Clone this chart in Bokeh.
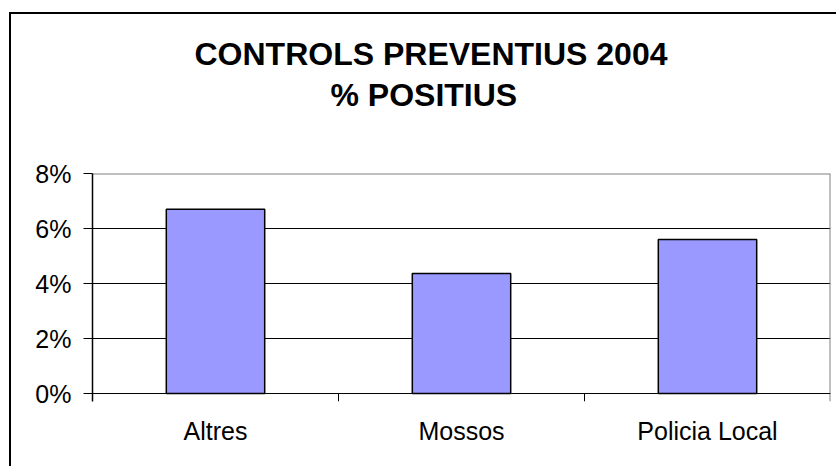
from bokeh.plotting import figure
from bokeh.models import Range1d, FixedTicker, Title, ColumnDataSource
from bokeh.embed import file_html
from bokeh.resources import INLINE

# ---- data ----
categories = ["Altres", "Mossos", "Policia Local"]
positius = [6.7, 4.36, 5.6]          # percent
y_ticks = [0, 2, 4, 6, 8]
y_tick_labels = ["0%", "2%", "4%", "6%", "8%"]
title_lines = ["CONTROLS PREVENTIUS 2004", "% POSITIUS"]

FONT = "Liberation Sans"
n = len(categories)
x_centers = [i + 0.5 for i in range(n)]
y_bottom = -0.29
y_top = 8

p = figure(width=827, height=454, output_backend="svg", toolbar_location=None,
           x_range=Range1d(0, n), y_range=Range1d(y_bottom, y_top),
           min_border_left=81, min_border_right=8, min_border_top=159, min_border_bottom=67)
p.styles = {"border-left": "2px solid black", "border-top": "2px solid black",
            "margin-left": "9px", "margin-top": "12px"}
p.outline_line_color = None
p.background_fill_color = "white"
p.border_fill_color = "white"

# grid lines
p.xgrid.visible = False
p.ygrid.ticker = FixedTicker(ticks=[2, 4, 6])
p.ygrid.grid_line_color = "black"
p.ygrid.grid_line_width = 1

# plot-area border (top/right gray)
p.segment(x0=[0, n], y0=[y_top, y_bottom], x1=[n, n], y1=[y_top, y_top],
          line_color="#808080", line_width=2)

src = ColumnDataSource(dict(x=x_centers, top=positius, cat=categories))
p.vbar(x="x", top="top", width=0.4, bottom=0, source=src,
       fill_color="#9999FF", line_color="black", line_width=1.5)

# baseline and category boundary ticks
p.segment(x0=[0], y0=[0], x1=[n], y1=[0], line_color="black", line_width=1)
p.segment(x0=list(range(1, n)), y0=[0] * (n - 1), x1=list(range(1, n)), y1=[y_bottom] * (n - 1),
          line_color="black", line_width=1)

# y axis
ya = p.yaxis[0]
ya.ticker = FixedTicker(ticks=y_ticks)
ya.major_label_overrides = {t: l for t, l in zip(y_ticks, y_tick_labels)}
ya.major_tick_out = 9
ya.major_tick_in = 0
ya.minor_tick_line_color = None
ya.axis_line_color = "black"
ya.axis_line_width = 1.5
ya.major_tick_line_color = "black"
ya.major_label_text_font = FONT
ya.major_label_text_font_size = "25px"
ya.major_label_text_color = "black"
ya.major_label_standoff = 12

# x axis
xa = p.xaxis[0]
xa.ticker = FixedTicker(ticks=x_centers)
xa.major_label_overrides = {x: c for x, c in zip(x_centers, categories)}
xa.major_tick_line_color = None
xa.major_tick_out = 0
xa.major_tick_in = 0
xa.minor_tick_line_color = None
xa.axis_line_color = None
xa.major_label_text_font = FONT
xa.major_label_text_font_size = "25px"
xa.major_label_text_color = "black"
xa.major_label_standoff = 15

# spacer between plot area and title (innermost)
p.add_layout(Title(text=" ", standoff=55, text_font_size="1px", text_color="white"), "above")
# title: two stacked lines (last added is outermost)
for line, offset, standoff in [(title_lines[1], 238, 6), (title_lines[0], 102, 0)]:
    p.add_layout(Title(text=line, align="left", offset=offset, standoff=standoff,
                       text_font=FONT, text_font_size="32px", text_font_style="bold",
                       text_color="black"), "above")

open("out.html", "w").write(file_html(p, INLINE))
